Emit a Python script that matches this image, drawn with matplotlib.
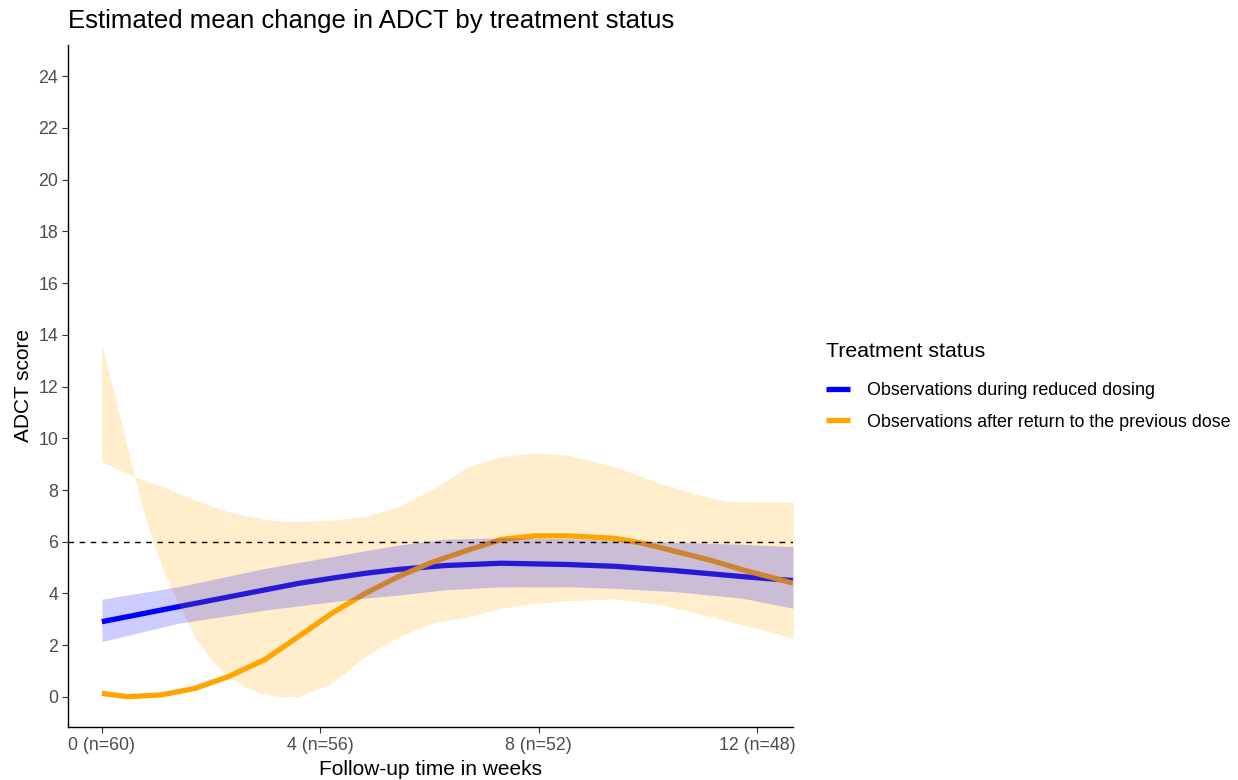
import matplotlib
matplotlib.use("Agg")
import matplotlib.pyplot as plt
import numpy as np

plt.rcParams["font.family"] = ["Liberation Sans", "DejaVu Sans"]

# reduced dosing: fitted mean and confidence band
blue_weeks = [0, 1.4, 2.99, 3.6, 4.21, 4.82, 5.43, 6.28, 7.32, 8.54, 9.4,
              10.52, 11.75, 12.66]
blue_mean = [2.91, 3.49, 4.14, 4.39, 4.59, 4.78, 4.93, 5.08, 5.17, 5.12, 5.05,
             4.88, 4.65, 4.5]
blue_upper = [3.78, 4.26, 4.97, 5.2, 5.42, 5.65, 5.87, 6.1, 6.15, 6.12, 6.05,
              5.98, 5.9, 5.81]
blue_lower = [2.14, 2.85, 3.36, 3.52, 3.68, 3.82, 3.94, 4.14, 4.26, 4.26, 4.2,
              4.07, 3.81, 3.43]

# after return to previous dose: fitted mean
orange_weeks = [0, 0.48, 1.09, 1.7, 2.31, 2.99, 3.6, 4.21, 4.82, 5.43, 6.04,
                6.71, 7.32, 7.93, 8.54, 9.4, 9.91, 10.52, 11.14, 11.75, 12.66]
orange_mean = [0.14, 0.01, 0.08, 0.33, 0.78, 1.45, 2.33, 3.23, 4.0, 4.65, 5.2,
               5.68, 6.09, 6.23, 6.23, 6.13, 5.94, 5.62, 5.29, 4.91, 4.4]

# after return to previous dose: band edges (they cross near week 0.6)
band_weeks = [0, 0.24, 0.42, 0.6, 0.79, 0.97, 1.15, 1.4, 1.7, 2.01, 2.31,
              2.62, 2.92, 3.3, 3.6, 4.21, 4.82, 5.43, 6.04, 6.71, 7.32, 7.93,
              8.54, 9.4, 10.22, 10.83, 11.44, 12.0, 12.66]
band_edge_a = [9.09, 8.85, 8.68, 8.51, 8.37, 8.22, 8.1, 7.88, 7.61, 7.38, 7.16,
               7.02, 6.9, 6.8, 6.78, 6.84, 6.97, 7.36, 8.0, 8.9, 9.29, 9.44,
               9.35, 8.9, 8.26, 7.87, 7.55, 7.54, 7.54]
band_edge_b = [13.6, 11.6, 10.06, 8.51, 6.97, 5.81, 4.78, 3.62, 2.33, 1.43, 0.78,
               0.4, 0.14, 0.0, 0.02, 0.53, 1.56, 2.33, 2.85, 3.1, 3.43, 3.62,
               3.72, 3.8, 3.58, 3.28, 2.95, 2.65, 2.27]

tick_weeks = [0, 4, 8, 12]
tick_labels = ["0 (n=60)", "4 (n=56)", "8 (n=52)", "12 (n=48)"]
series_names = ["Observations during reduced dosing",
                "Observations after return to the previous dose"]

fig = plt.figure(figsize=(12.38, 7.8), dpi=100)
ax = fig.add_axes([68 / 1238, 53 / 780, 725 / 1238, 682 / 780])

# lines first, the translucent ribbons sit on top of them
ax.plot(blue_weeks, blue_mean, color="#0000FF", lw=3.8, zorder=2,
        solid_capstyle="butt", solid_joinstyle="round", label=series_names[0])
ax.plot(orange_weeks, orange_mean, color="#FFA500", lw=3.8, zorder=2,
        solid_capstyle="butt", solid_joinstyle="round", label=series_names[1])
ax.fill_between(band_weeks, band_edge_a, band_edge_b, color="#FFA500",
                alpha=0.2, lw=0, zorder=3)
ax.fill_between(blue_weeks, blue_lower, blue_upper, color="#0000FF",
                alpha=0.2, lw=0, zorder=4)

ax.axhline(6, color="black", lw=1.0, ls=(0, (4, 4)), zorder=5)

ax.set_xlim(-0.62, 12.66)
ax.set_ylim(-1.16, 25.2)
ax.set_xticks(tick_weeks)
ax.set_xticklabels(tick_labels)
ax.set_yticks(np.arange(0, 25, 2))

for side in ["top", "right"]:
    ax.spines[side].set_visible(False)
for side in ["left", "bottom"]:
    ax.spines[side].set_linewidth(1.0)
ax.tick_params(axis="both", length=4, width=0.8, color="#333333",
               labelcolor="#4D4D4D", labelsize=12.8, pad=3)

ax.set_xlabel("Follow-up time in weeks", fontsize=15, color="black",
              va="top")
ax.xaxis.set_label_coords(0.5, -0.048)
ax.set_ylabel("ADCT score", fontsize=15, color="black")
ax.yaxis.set_label_coords(-0.048, 0.5)

fig.text(68 / 1238, 1 - 21 / 780, "Estimated mean change in ADCT by treatment status",
         fontsize=18.5, va="center", ha="left")

leg = ax.legend(loc="upper left", bbox_to_anchor=(817 / 1238, 1 - 333 / 780),
                bbox_transform=fig.transFigure, frameon=False, borderpad=0,
                title="Treatment status", title_fontsize=15.3, fontsize=12.9,
                handlelength=1.35, handletextpad=0.95, labelspacing=0.8,
                alignment="left")
# a little more room between the legend title and its entries
leg._legend_box.sep += 5

fig.savefig("out.png", dpi=100)
